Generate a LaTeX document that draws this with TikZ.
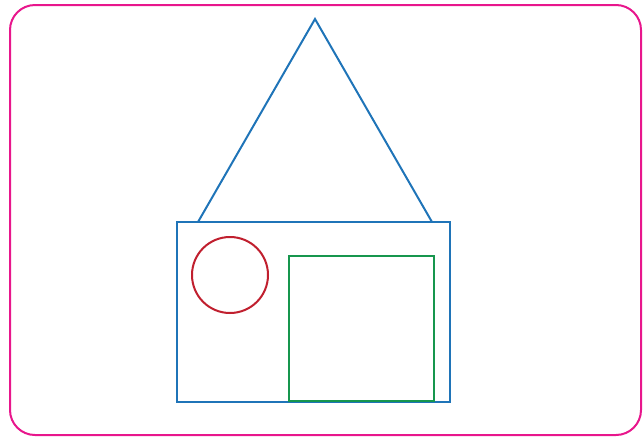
\documentclass[tikz,border=0pt]{standalone}
\definecolor{bordermag}{HTML}{E8168C}
\definecolor{houseblue}{HTML}{1F74B8}
\definecolor{sunred}{HTML}{C01F2E}
\definecolor{doorgreen}{HTML}{17964E}
\begin{document}
\begin{tikzpicture}[x=1pt,y=-1pt,
  frame/.style={draw=bordermag,line width=2pt,rounded corners=25pt},
  bluepart/.style={draw=houseblue,line width=2pt,line join=miter},
  redpart/.style={draw=sunred,line width=2pt},
  greenpart/.style={draw=doorgreen,line width=1.7pt}]
\useasboundingbox (0,0) rectangle (644,437);
\draw[frame] (10,5) rectangle (641,435);
\coordinate (apex) at (315,19);
\coordinate (bl) at (198,222);
\coordinate (br) at (432,222);
\draw[bluepart] (bl) -- (apex) -- (br);
\draw[bluepart] (177,222) rectangle (450,402);
\draw[redpart] (230,275) circle (38);
\draw[greenpart] (289,256) rectangle (434,401);
\end{tikzpicture}
\end{document}
